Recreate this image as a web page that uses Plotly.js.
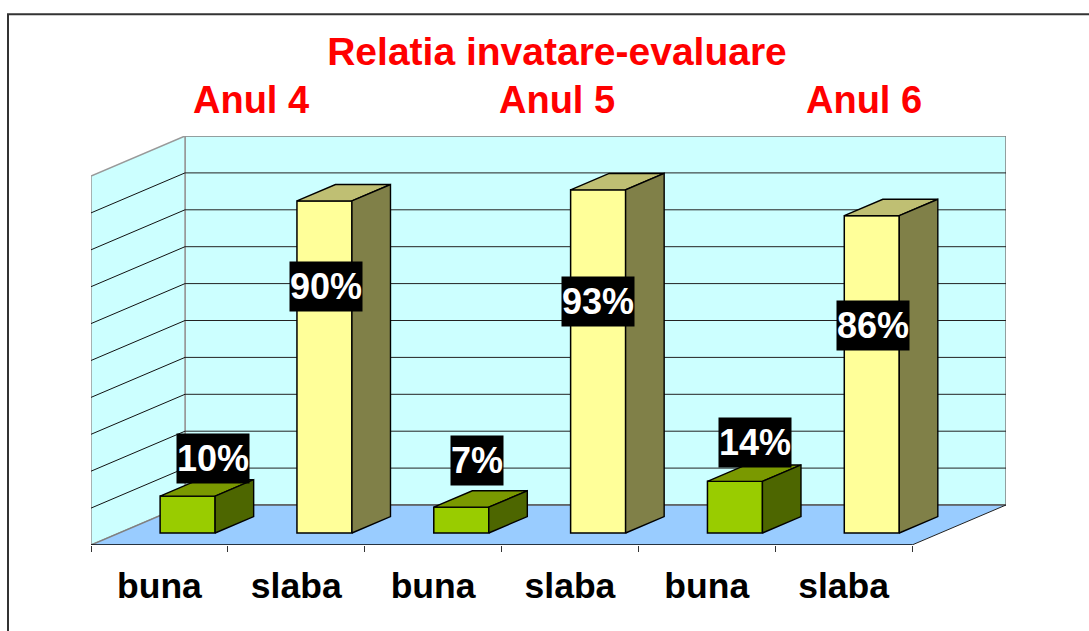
<!DOCTYPE html>
<html><head><meta charset="utf-8">
<script src="https://cdn.plot.ly/plotly-3.0.1.min.js"></script>
<style>html,body{margin:0;padding:0;background:#fff;overflow:hidden}#c{width:1089px;height:631px}</style>
</head><body><div id="c"></div>
<script>
const categories = ['buna','slaba','buna','slaba','buna','slaba'];
const values = [10,90,7,93,14,86];
const labels = ['10%','90%','7%','93%','14%','86%'];
const gridValues = [10,20,30,40,50,60,70,80,90];
const yearLabels = ['Anul 4','Anul 5','Anul 6'];

// oblique projection of the Excel-style 3-D chart
const catPx = 821/6, pctPx = 3.69;
const depthX = 94/catPx, depthY = 40/pctPx;   // full floor depth in axis units
const z0 = 0.30, z1 = 0.71, barW = 55/catPx;
const P = (x,v,z)=>[x+z*depthX, v+z*depthY];
const xMax = 6+depthX, yMax = 100+depthY;
const poly = pts => 'M'+pts.map(p=>p[0]+','+p[1]).join('L')+'Z';
const shape = (pts,fill,color,width)=>({type:'path',xref:'x',yref:'y',layer:'below',path:poly(pts),
  fillcolor:fill,line:{color:color||'rgba(0,0,0,0)',width:width===undefined?1:width}});
const seg = (a,b,color,width)=>({type:'line',xref:'x',yref:'y',layer:'below',x0:a[0],y0:a[1],x1:b[0],y1:b[1],line:{color,width}});

const shapes = [
  {type:'rect',xref:'paper',yref:'paper',layer:'below',
   x0:(8-91)/915,x1:(1120-91)/915,y0:(545.5-660)/409.5,y1:(545.5-14)/409.5,line:{color:'#333',width:2},fillcolor:'#fff'},
  shape([P(0,0,1),P(6,0,1),P(6,100,1),P(0,100,1)],'#CCFFFF','#808080',1.5),
  shape([P(0,0,0),P(0,0,1),P(0,100,1),P(0,100,0)],'#CCFFFF','#999999',1.5),
  shape([P(0,0,0),P(6,0,0),P(6,0,1),P(0,0,1)],'#99CCFF'),
  seg(P(0,0,0),P(0,0,1),'#808080',1.5),
  seg(P(0,0,1),P(6,0,1),'#555',1.5),
  seg(P(6,0,0),P(6,0,1),'#222',1),
  seg(P(0,0,0),P(6,0,0),'#000',1.5)
];
gridValues.forEach(v=>{
  shapes.push(seg(P(0,v,0),P(0,v,1),'#111',1));
  shapes.push(seg(P(0,v,1),P(6,v,1),'#222',1));
});

const isBuna = c => c==='buna';
const traces = [];
const centers = categories.map((c,i)=>i+0.5);
traces.push({type:'bar',x:centers.map(c=>c+z0*depthX),y:values,base:values.map(()=>z0*depthY),
  width:barW,marker:{color:categories.map(c=>isBuna(c)?'#99CC00':'#FFFF99'),line:{color:'#000',width:1.5}},
  hoverinfo:'skip',showlegend:false});
categories.forEach((c,i)=>{
  const xl=centers[i]-barW/2, xr=centers[i]+barW/2, v=values[i];
  const top=[P(xl,v,z0),P(xr,v,z0),P(xr,v,z1),P(xl,v,z1)];
  const side=[P(xr,0,z0),P(xr,v,z0),P(xr,v,z1),P(xr,0,z1)];
  [[top,isBuna(c)?'#7A9900':'#BFBF73'],[side,isBuna(c)?'#4D6600':'#808048']].forEach(([pts,col])=>{
    traces.push({type:'scatter',mode:'lines',x:pts.map(p=>p[0]).concat(pts[0][0]),y:pts.map(p=>p[1]).concat(pts[0][1]),
      fill:'toself',fillcolor:col,line:{color:'#000',width:1.4},hoverinfo:'skip',showlegend:false});
  });
});

// label box offset from the top-front centre of each bar (the labels were placed by hand)
const labelShift = [[25,38],[2,-86],[16,47],[0,-112],[20,39],[1,-110]];
const annF = {family:'Liberation Sans, Arial, sans-serif',size:36,color:'#fff'};
const annotations = labels.map((t,i)=>({xref:'x',yref:'y',x:centers[i]+z0*depthX,y:values[i]+z0*depthY,
  text:'<b>'+t+'</b>',showarrow:false,xshift:labelShift[i][0],yshift:labelShift[i][1],
  font:annF,bgcolor:'#000',borderpad:0,width:t.length===2?52:72,height:49,align:'center',valign:'middle'}));
const yearPx = [251,556.5,863.5];
yearLabels.forEach((t,i)=>annotations.push({xref:'paper',yref:'paper',x:(yearPx[i]-91)/915,y:(545.5-100)/409.5,
  xanchor:'center',yanchor:'middle',
  text:'<b>'+t+'</b>',showarrow:false,font:{family:'Liberation Sans, Arial, sans-serif',size:38,color:'#FF0000'}}));

Plotly.newPlot('c',traces,{
  width:1089,height:631,paper_bgcolor:'#fff',plot_bgcolor:'rgba(0,0,0,0)',
  margin:{l:91,r:83,t:136,b:85.5,pad:0},
  showlegend:false,barmode:'overlay',
  title:{text:'<b>Relatia invatare-evaluare</b>',x:557/1089,xanchor:'center',y:1-51/631,yanchor:'middle',
    font:{family:'Liberation Sans, Arial, sans-serif',size:39,color:'#FF0000'}},
  xaxis:{range:[0,xMax],tickmode:'array',tickvals:centers,ticktext:categories,ticks:'outside',ticklen:9,
    tickcolor:'rgba(0,0,0,0)',showgrid:false,zeroline:false,showline:false,
    tickfont:{family:'Liberation Sans, Arial, sans-serif',size:35.5,color:'#000',weight:'bold'},
    minor:{tickmode:'array',tickvals:[0,1,2,3,4,5,6],ticks:'outside',ticklen:6,tickcolor:'#333',tickwidth:1,showgrid:false}},
  yaxis:{range:[0,yMax],showticklabels:false,ticks:'',showgrid:false,zeroline:false,showline:false},
  shapes,annotations
},{displayModeBar:false,staticPlot:true});
</script></body></html>
